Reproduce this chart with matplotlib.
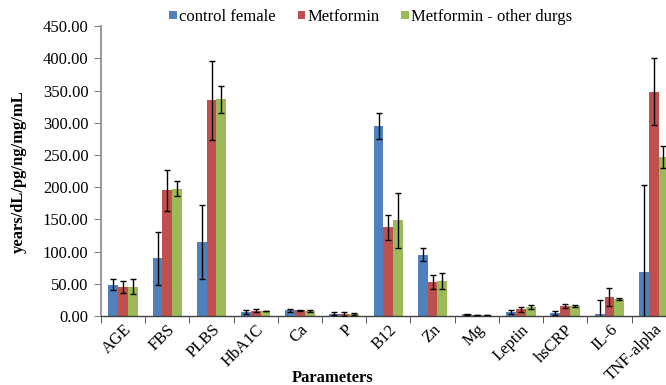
import numpy as np
import matplotlib
matplotlib.use("Agg")
import matplotlib.pyplot as plt

plt.rcParams['font.family'] = ['Liberation Serif', 'DejaVu Serif']

params = ["AGE", "FBS", "PLBS", "HbA1C", "Ca", "P", "B12", "Zn", "Mg",
          "Leptin", "hsCRP", "IL-6", "TNF-alpha"]

control = [48.4, 89.5, 115.0, 6.2, 8.8, 3.6, 295.0, 95.0, 2.5, 6.2, 4.7, 3.1, 68.5]
control_err = [8.6, 41.0, 58.0, 2.5, 2.0, 2.5, 20.5, 10.3, 0.5, 3.8, 3.6, 21.0, 135.0]

metformin = [45.8, 195.0, 335.0, 8.3, 8.8, 3.1, 138.0, 52.8, 1.5, 10.4, 15.5, 30.0, 348.0]
metformin_err = [9.3, 31.5, 61.0, 2.5, 0.8, 2.5, 19.5, 10.8, 0.4, 3.6, 2.6, 14.0, 52.0]

other = [45.8, 198.0, 336.6, 7.8, 7.2, 3.6, 149.0, 54.3, 1.5, 14.0, 15.5, 26.4, 247.0]
other_err = [11.2, 11.2, 20.7, 0.6, 1.5, 1.5, 42.7, 12.0, 0.4, 2.6, 1.5, 1.5, 17.0]

series = [
    ("control female", control, control_err, "#4F81BD"),
    ("Metformin", metformin, metformin_err, "#C0504D"),
    ("Metformin - other durgs", other, other_err, "#9BBB59"),
]

fig = plt.figure(figsize=(6.66, 3.85), dpi=100)
ax = fig.add_axes([0.1517, 0.1792, 0.8483, 0.7527])

x = np.arange(len(params))
w = 0.222
for i, (name, vals, errs, col) in enumerate(series):
    pos = x + (i - 1) * w
    ax.bar(pos, vals, w, color=col, label=name, zorder=2)
    ax.errorbar(pos, vals, yerr=errs, fmt="none", ecolor="black",
                elinewidth=1.0, capsize=2.0, capthick=1.0, zorder=3)

ax.set_xlim(-0.5, 12.28)
ax.set_ylim(0, 450)
ax.set_yticks(np.arange(0, 451, 50))
ax.set_yticklabels([f"{v:.2f}" for v in np.arange(0, 451, 50)], fontsize=12)

ax.set_xticks(x)
ax.set_xticklabels(params, rotation=45, ha="right", rotation_mode="anchor", fontsize=12)
ax.tick_params(axis="x", which="major", length=0, pad=4)
ax.set_xticks(np.arange(-0.5, 12.5, 1.0), minor=True)
ax.tick_params(axis="x", which="minor", length=5, color="#404040", direction="out")
ax.tick_params(axis="y", length=5, color="#808080", direction="out", pad=4)

for s in ["top", "right"]:
    ax.spines[s].set_visible(False)
ax.spines["left"].set_color("#888888")
ax.spines["left"].set_linewidth(1.2)
ax.spines["bottom"].set_color("#404040")
ax.spines["bottom"].set_linewidth(1.0)

fig.text(0.5, 0.018, "Parameters", fontsize=12, fontweight="bold", ha="center", va="center")
fig.text(0.0285, 0.553, "years/dL/pg/ng/mg/mL", fontsize=12, fontweight="bold",
         rotation=90, ha="center", va="center")

fig.legend(loc="center", bbox_to_anchor=(0.557, 0.956), ncol=3, frameon=False,
           fontsize=12, handlelength=0.45, handleheight=0.45, handletextpad=0.15,
           columnspacing=1.3)

fig.savefig("out.png", dpi=100)
